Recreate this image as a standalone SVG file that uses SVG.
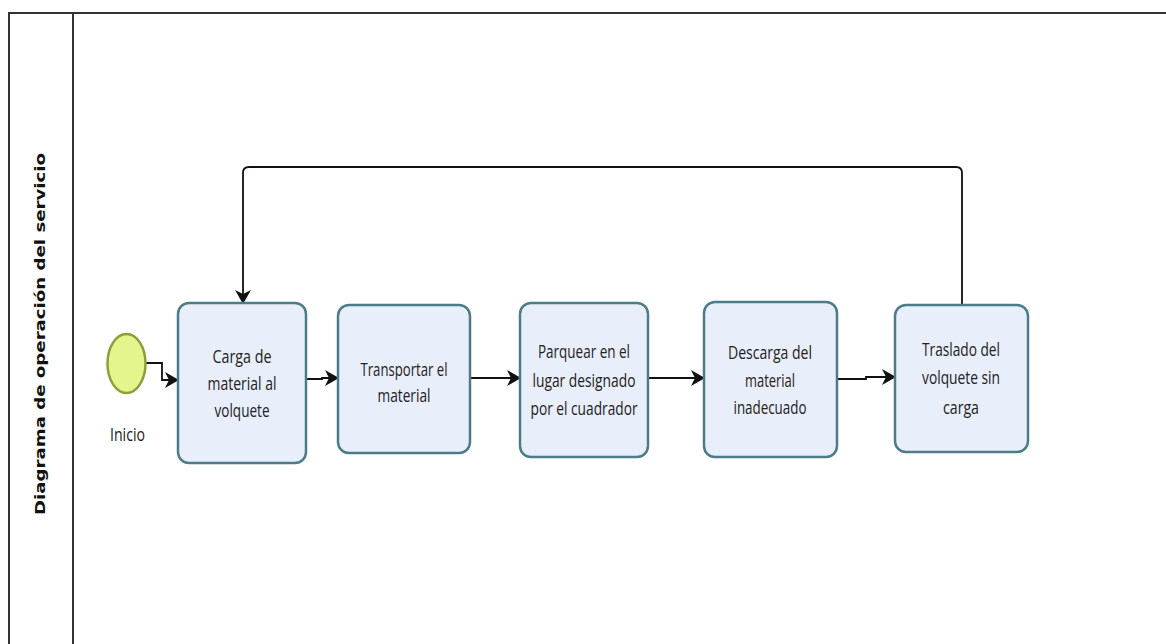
<svg xmlns="http://www.w3.org/2000/svg" width="1166" height="644" viewBox="0 0 1166 644">
<style>
.pool{fill:none;stroke:#333;stroke-width:2}
.task{fill:#e9eefb;stroke:#4b7c88;stroke-width:2.5}
.lbl{font-family:"Open Sans","DejaVu Sans",sans-serif;font-size:18px;fill:#222;text-anchor:middle}
.title{font-family:"DejaVu Sans",sans-serif;font-weight:bold;font-size:14px;fill:#111;text-anchor:middle}
.conn{fill:none;stroke:#111;stroke-width:1.8}
</style>
<defs>
<marker id="arr" viewBox="0 0 14 16" refX="13" refY="8" markerWidth="14" markerHeight="16" markerUnits="userSpaceOnUse" orient="auto">
<path d="M0,0 L14,8 L0,16 L4,8 Z" fill="#111"/>
</marker>
</defs>
<rect width="1166" height="644" fill="#fff"/>
<g id="pool">
<path class="pool" d="M9,650 L9,13 L1170,13"/>
<line class="pool" x1="73" y1="13" x2="73" y2="650"/>
<text class="title" transform="translate(45,334) rotate(-90)" textLength="362" lengthAdjust="spacingAndGlyphs">Diagrama de operación del servicio</text>
</g>
<g id="connectors">
<path class="conn" d="M146,363 H162 V380 H178" marker-end="url(#arr)"/>
<path class="conn" d="M306,379 H322 V378 H338" marker-end="url(#arr)"/>
<path class="conn" d="M470,378 H520" marker-end="url(#arr)"/>
<path class="conn" d="M648,378 H704" marker-end="url(#arr)"/>
<path class="conn" d="M837,379 H866 V377 H895" marker-end="url(#arr)"/>
<path class="conn" d="M962,305 V173 Q962,167 956,167 H249 Q243,167 243,173 V303" marker-end="url(#arr)"/>
</g>
<g id="inicio">
<ellipse cx="126.5" cy="363.5" rx="19" ry="29.5" fill="#e4f58e" stroke="#8aa03a" stroke-width="2.5"/>
<text class="lbl" x="127.5" y="441" textLength="35" lengthAdjust="spacingAndGlyphs">Inicio</text>
</g>
<g id="task1">
<rect class="task" x="178" y="303" width="128" height="160" rx="11"/>
<text class="lbl" x="242" y="363" textLength="59" lengthAdjust="spacingAndGlyphs">Carga de</text>
<text class="lbl" x="242" y="390" textLength="69" lengthAdjust="spacingAndGlyphs">material al</text>
<text class="lbl" x="242" y="417" textLength="55" lengthAdjust="spacingAndGlyphs">volquete</text>
</g>
<g id="task2">
<rect class="task" x="338" y="305" width="132" height="148" rx="11"/>
<text class="lbl" x="404" y="376" textLength="87" lengthAdjust="spacingAndGlyphs">Transportar el</text>
<text class="lbl" x="404" y="402" textLength="53" lengthAdjust="spacingAndGlyphs">material</text>
</g>
<g id="task3">
<rect class="task" x="520" y="303" width="128" height="154" rx="11"/>
<text class="lbl" x="584" y="358" textLength="92" lengthAdjust="spacingAndGlyphs">Parquear en el</text>
<text class="lbl" x="584" y="387" textLength="103" lengthAdjust="spacingAndGlyphs">lugar designado</text>
<text class="lbl" x="584" y="415" textLength="107" lengthAdjust="spacingAndGlyphs">por el cuadrador</text>
</g>
<g id="task4">
<rect class="task" x="704" y="302" width="133" height="155" rx="11"/>
<text class="lbl" x="770" y="359" textLength="84" lengthAdjust="spacingAndGlyphs">Descarga del</text>
<text class="lbl" x="770" y="387" textLength="50" lengthAdjust="spacingAndGlyphs">material</text>
<text class="lbl" x="770" y="414" textLength="73" lengthAdjust="spacingAndGlyphs">inadecuado</text>
</g>
<g id="task5">
<rect class="task" x="895" y="305" width="133" height="147" rx="11"/>
<text class="lbl" x="961" y="356" textLength="78" lengthAdjust="spacingAndGlyphs">Traslado del</text>
<text class="lbl" x="961" y="384" textLength="78" lengthAdjust="spacingAndGlyphs">volquete sin</text>
<text class="lbl" x="961" y="414" textLength="36" lengthAdjust="spacingAndGlyphs">carga</text>
</g>
</svg>
